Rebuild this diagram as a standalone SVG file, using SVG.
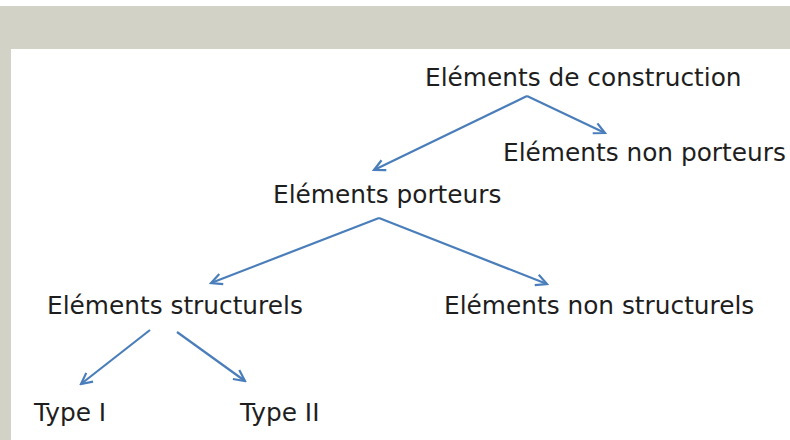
<svg xmlns="http://www.w3.org/2000/svg" width="790" height="440" viewBox="0 0 790 440">
<style>
.t{font-family:"DejaVu Sans","Liberation Sans",sans-serif;font-size:24.8px;fill:#1e1e1e}
.c{stroke:#4a7ebb;stroke-width:2.2;fill:none;marker-end:url(#ah)}
</style>
<defs>
<marker id="ah" viewBox="0 0 14 14" refX="12" refY="7" markerWidth="14" markerHeight="14" markerUnits="userSpaceOnUse" orient="auto">
<polyline points="1,1.5 12,7 1,12.5" fill="none" stroke="#4a7ebb" stroke-width="2.2"/>
</marker>
</defs>
<rect x="0" y="0" width="790" height="440" fill="#ffffff"/>
<rect x="0" y="6" width="790" height="43" fill="#d3d2c6"/>
<rect x="0" y="49" width="11" height="391" fill="#d3d2c6"/>
<g id="connectors">
<line class="c" x1="527" y1="96" x2="374" y2="170"/>
<line class="c" x1="527" y1="96" x2="605" y2="133"/>
<line class="c" x1="379" y1="218" x2="211" y2="283"/>
<line class="c" x1="379" y1="218" x2="547" y2="284"/>
<line class="c" x1="150" y1="330" x2="81" y2="384"/>
<line class="c" x1="177" y1="332" x2="245" y2="381"/>
</g>
<g id="n1"><text class="t" x="425" y="86">Eléments de construction</text></g>
<g id="n2"><text class="t" x="503" y="161">Eléments non porteurs</text></g>
<g id="n3"><text class="t" x="273" y="203">Eléments porteurs</text></g>
<g id="n4"><text class="t" x="47" y="314">Eléments structurels</text></g>
<g id="n5"><text class="t" x="444" y="314">Eléments non structurels</text></g>
<g id="n6"><text class="t" x="34" y="421">Type I</text></g>
<g id="n7"><text class="t" x="240" y="421">Type II</text></g>
</svg>
